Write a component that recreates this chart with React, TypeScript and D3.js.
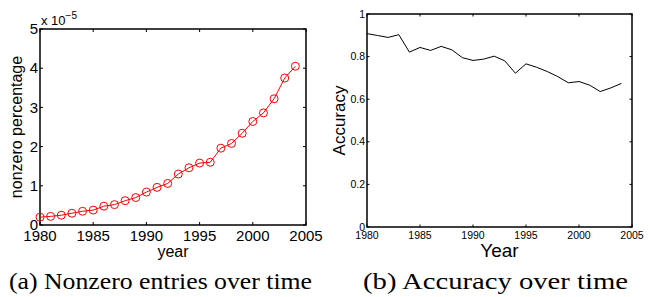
import React, { useEffect, useRef } from 'react';
import * as d3 from 'd3';

const years = d3.range(1980, 2005);
// nonzero percentage, in units of 1e-5
const nonzero = [0.20, 0.22, 0.25, 0.30, 0.35, 0.38, 0.48, 0.52, 0.62, 0.70, 0.84, 0.96, 1.06, 1.30, 1.46, 1.58, 1.60, 1.96, 2.08, 2.34, 2.64, 2.86, 3.22, 3.75, 4.05];
const accuracy = [0.908, 0.899, 0.89, 0.903, 0.821, 0.843, 0.829, 0.848, 0.832, 0.795, 0.782, 0.788, 0.802, 0.78, 0.722, 0.766, 0.75, 0.73, 0.706, 0.677, 0.683, 0.666, 0.636, 0.653, 0.674];
const xTicks = [1980, 1985, 1990, 1995, 2000, 2005];
const leftYTicks = [0, 1, 2, 3, 4, 5];
const rightYTicks = [0, 0.2, 0.4, 0.6, 0.8, 1];

const sans = 'Liberation Sans, Arial, sans-serif';
const serif = 'Liberation Serif, Times New Roman, serif';

function App() {
  const svgRef = useRef<SVGSVGElement>(null);

  useEffect(() => {
    if (!svgRef.current) return;
    const svg = d3.select(svgRef.current);
    svg.selectAll('*').remove();

    // helper to draw a matlab-ish box with inward ticks
    const drawFrame = (
      x: d3.ScaleLinear<number, number>,
      y: d3.ScaleLinear<number, number>,
      yTicks: number[],
      tickLen: number,
      fontSize: number,
      yFmt: (v: number) => string
    ) => {
      const [x0, x1] = x.range();
      const [y0, y1] = y.range();
      const g = svg.append('g');
      xTicks.forEach(t => {
        g.append('line').attr('x1', x(t)).attr('x2', x(t)).attr('y1', y0).attr('y2', y0 - tickLen)
          .attr('stroke', '#000').attr('stroke-width', 1);
        g.append('line').attr('x1', x(t)).attr('x2', x(t)).attr('y1', y1).attr('y2', y1 + tickLen)
          .attr('stroke', '#000').attr('stroke-width', 1);
        g.append('text').attr('x', x(t)).attr('y', y0 + fontSize + 1)
          .attr('text-anchor', 'middle').style('font-family', sans).style('font-size', `${fontSize}px`)
          .text(t);
      });
      yTicks.forEach(t => {
        g.append('line').attr('x1', x0).attr('x2', x0 + tickLen).attr('y1', y(t)).attr('y2', y(t))
          .attr('stroke', '#000').attr('stroke-width', 1);
        g.append('line').attr('x1', x1).attr('x2', x1 - tickLen).attr('y1', y(t)).attr('y2', y(t))
          .attr('stroke', '#000').attr('stroke-width', 1);
        g.append('text').attr('x', x0 - 2).attr('y', y(t)).attr('dy', '0.35em')
          .attr('text-anchor', 'end').style('font-family', sans).style('font-size', `${fontSize}px`)
          .text(yFmt(t));
      });
      g.append('rect').attr('x', x0).attr('y', y1).attr('width', x1 - x0).attr('height', y0 - y1)
        .attr('fill', 'none').attr('stroke', '#000').attr('stroke-width', 1.5);
      return g;
    };

    // (a) nonzero entries
    const xA = d3.scaleLinear().domain([1980, 2005]).range([40, 306]);
    const yA = d3.scaleLinear().domain([0, 5]).range([225, 29]);
    const gA = drawFrame(xA, yA, leftYTicks, 3, 15, v => String(v));

    const lineA = d3.line<number>().x((_, i) => xA(years[i])).y(d => yA(d));
    gA.append('path').datum(nonzero).attr('d', lineA).attr('fill', 'none')
      .attr('stroke', '#ff0000').attr('stroke-width', 1);
    gA.selectAll('.mk').data(nonzero).enter().append('circle')
      .attr('cx', (_, i) => xA(years[i])).attr('cy', d => yA(d)).attr('r', 4)
      .attr('fill', 'none').attr('stroke', '#ff0000').attr('stroke-width', 1);

    const exp = gA.append('text').attr('x', 41).attr('y', 25)
      .style('font-family', sans).style('font-size', '13px');
    exp.append('tspan').text('x 10');
    exp.append('tspan').attr('dy', -6).style('font-size', '10px').text('\u22125');

    gA.append('text').attr('transform', `translate(22,${(225 + 29) / 2}) rotate(-90)`)
      .attr('text-anchor', 'middle').style('font-family', sans).style('font-size', '16px')
      .text('nonzero percentage');
    gA.append('text').attr('x', xA(1992.5)).attr('y', 257)
      .attr('text-anchor', 'middle').style('font-family', sans).style('font-size', '16px')
      .text('year');
    gA.append('text').attr('x', 9).attr('y', 289)
      .attr('textLength', 303).attr('lengthAdjust', 'spacingAndGlyphs')
      .style('font-family', serif).style('font-size', '23px')
      .text('(a) Nonzero entries over time');

    // (b) accuracy
    const xB = d3.scaleLinear().domain([1980, 2005]).range([367, 632]);
    const yB = d3.scaleLinear().domain([0, 1]).range([227, 14]);
    const gB = drawFrame(xB, yB, rightYTicks, 2.5, 10.5, v => String(v));

    const lineB = d3.line<number>().x((_, i) => xB(years[i])).y(d => yB(d));
    gB.append('path').datum(accuracy).attr('d', lineB).attr('fill', 'none')
      .attr('stroke', '#000').attr('stroke-width', 1);

    gB.append('text').attr('transform', `translate(345,${(227 + 14) / 2}) rotate(-90)`)
      .attr('text-anchor', 'middle').style('font-family', sans).style('font-size', '17px')
      .text('Accuracy');
    gB.append('text').attr('x', xB(1992.5)).attr('y', 257)
      .attr('text-anchor', 'middle').style('font-family', sans).style('font-size', '19px')
      .text('Year');
    gB.append('text').attr('x', 363).attr('y', 289)
      .attr('textLength', 265).attr('lengthAdjust', 'spacingAndGlyphs')
      .style('font-family', serif).style('font-size', '23px')
      .text('(b) Accuracy over time');
  }, []);

  return (
    <svg ref={svgRef} width={650} height={297}
      style={{ position: 'absolute', left: 0, top: 0, background: '#fff' }} />
  );
}

export default App;
